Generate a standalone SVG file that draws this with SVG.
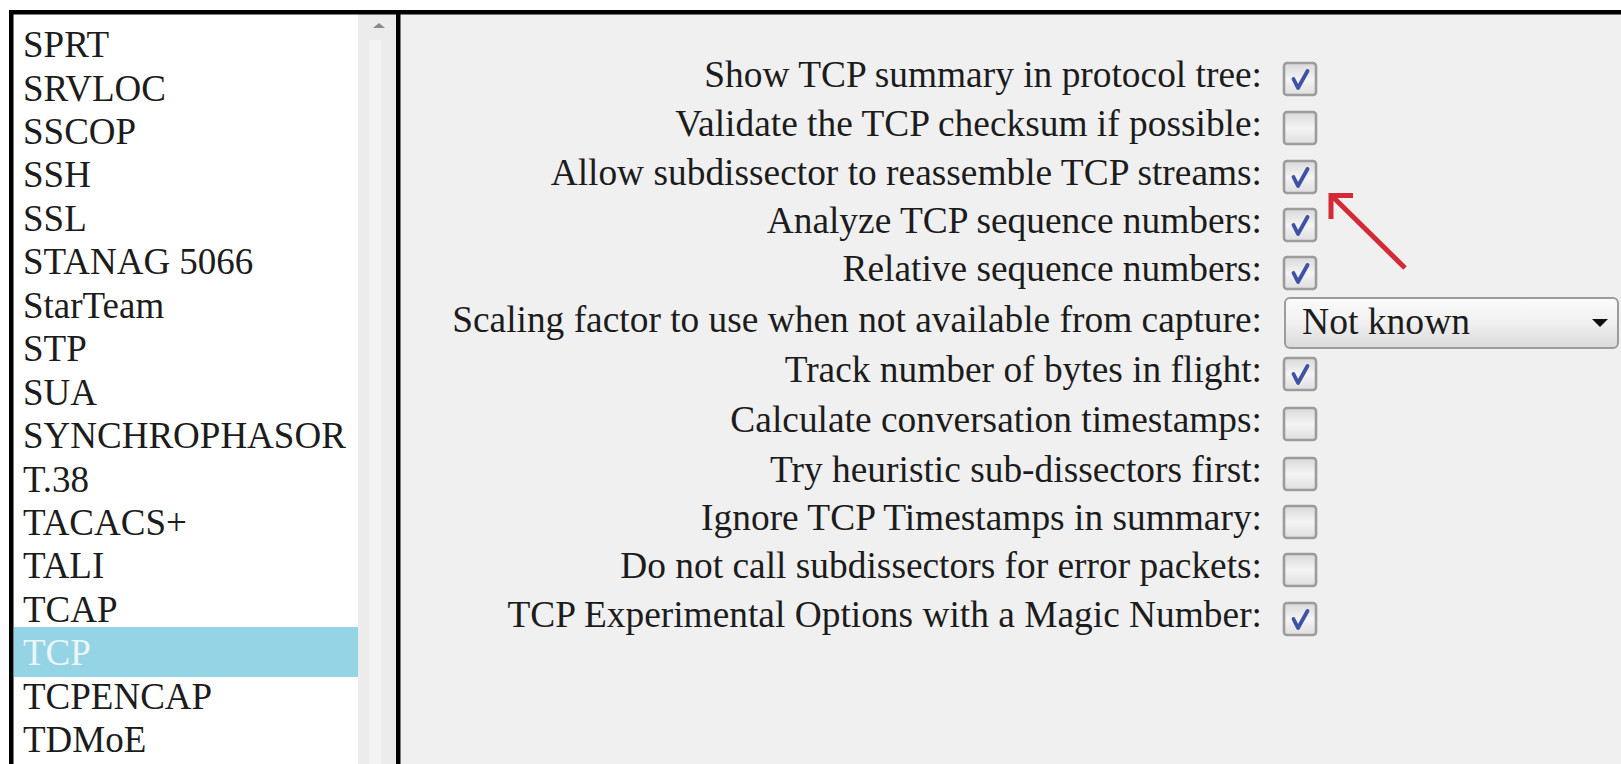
<svg xmlns="http://www.w3.org/2000/svg" width="1621" height="764" viewBox="0 0 1621 764" font-family="'Liberation Serif', 'Times New Roman', serif">
  <style>
    text { font-family: "Liberation Serif", "Times New Roman", serif; }
    .item { font-size: 37px; fill: #1c1c1c; }
    .sel { fill: #eaf6fa; }
    .label { font-size: 37.4px; fill: #1c1c1c; text-anchor: end; }
    .combo-text { font-size: 37.6px; fill: #1c1c1c; }
    .box { fill: url(#boxFill); stroke: #9c9c9c; stroke-width: 2.6; }
    .tick { fill: none; stroke: #3f52a3; stroke-width: 3.8; stroke-linecap: round; stroke-linejoin: round; }
    .arrow { fill: none; stroke: #d42a35; stroke-width: 5; stroke-linecap: butt; }
  </style>
  <defs>
    <linearGradient id="boxFill" x1="0" y1="0" x2="0" y2="1">
      <stop offset="0" stop-color="#d9d9d9"/>
      <stop offset="0.5" stop-color="#f4f4f4"/>
      <stop offset="1" stop-color="#dedede"/>
    </linearGradient>
    <linearGradient id="comboFill" x1="0" y1="0" x2="0" y2="1">
      <stop offset="0" stop-color="#fbfbfb"/>
      <stop offset="0.5" stop-color="#f0f0f0"/>
      <stop offset="1" stop-color="#dadada"/>
    </linearGradient>
    <symbol id="cbOff" viewBox="0 0 34 34" overflow="visible">
      <rect class="box" x="1" y="1" width="32" height="32" rx="3"/>
    </symbol>
    <symbol id="cbOn" viewBox="0 0 34 34" overflow="visible">
      <rect class="box" x="1" y="1" width="32" height="32" rx="3"/>
      <path class="tick" d="M10.5 17 L15 26 L24.5 9"/>
    </symbol>
  </defs>

  <!-- page background and panels -->
  <rect x="0" y="0" width="1621" height="764" fill="#ffffff"/>
  <rect x="11" y="12" width="1610" height="752" fill="#f0f0f0"/>

  <!-- protocol list -->
  <g id="protocol-list">
    <rect x="13" y="14" width="345" height="750" fill="#ffffff"/>
    <rect x="358" y="14" width="38" height="750" fill="#ececec"/>
    <rect x="369" y="40" width="12" height="724" fill="#f3f3f3"/>
    <path d="M373 28 L379 23 L385 28 Z" fill="#8a8a8a"/>
    <rect x="14" y="627" width="344" height="50" fill="#94d4e4"/>
    <text class="item" x="23" y="57">SPRT</text>
    <text class="item" x="23" y="100.5">SRVLOC</text>
    <text class="item" x="23" y="144">SSCOP</text>
    <text class="item" x="23" y="187.4">SSH</text>
    <text class="item" x="23" y="230.8">SSL</text>
    <text class="item" x="23" y="274.3">STANAG 5066</text>
    <text class="item" x="23" y="317.7">StarTeam</text>
    <text class="item" x="23" y="361.2">STP</text>
    <text class="item" x="23" y="404.6">SUA</text>
    <text class="item" x="23" y="448.1">SYNCHROPHASOR</text>
    <text class="item" x="23" y="491.5">T.38</text>
    <text class="item" x="23" y="535">TACACS+</text>
    <text class="item" x="23" y="578.4">TALI</text>
    <text class="item" x="23" y="621.9">TCAP</text>
    <text class="item sel" x="23" y="665.3">TCP</text>
    <text class="item" x="23" y="708.8">TCPENCAP</text>
    <text class="item" x="23" y="752.2">TDMoE</text>
  </g>

  <!-- frame lines -->
  <g id="frame">
    <rect x="9" y="10" width="1612" height="4.5" fill="#000000"/>
    <rect x="9" y="10" width="4.5" height="754" fill="#000000"/>
    <rect x="396" y="10" width="4.5" height="754" fill="#000000"/>
  </g>

  <!-- TCP preference rows -->
  <g id="pref-summary">
    <text class="label" x="1262" y="87">Show TCP summary in protocol tree:</text>
    <use href="#cbOn" x="1283" y="62" width="34" height="34"/>
  </g>
  <g id="pref-checksum">
    <text class="label" x="1262" y="136">Validate the TCP checksum if possible:</text>
    <use href="#cbOff" x="1283" y="111" width="34" height="34"/>
  </g>
  <g id="pref-reassemble">
    <text class="label" x="1262" y="185">Allow subdissector to reassemble TCP streams:</text>
    <use href="#cbOn" x="1283" y="160" width="34" height="34"/>
  </g>
  <g id="pref-analyze">
    <text class="label" x="1262" y="233">Analyze TCP sequence numbers:</text>
    <use href="#cbOn" x="1283" y="208" width="34" height="34"/>
  </g>
  <g id="pref-relative">
    <text class="label" x="1262" y="281">Relative sequence numbers:</text>
    <use href="#cbOn" x="1283" y="256" width="34" height="34"/>
  </g>
  <g id="pref-scaling">
    <text class="label" x="1262" y="332">Scaling factor to use when not available from capture:</text>
    <rect x="1285" y="298" width="333" height="50" rx="5" fill="url(#comboFill)" stroke="#9c9c9c" stroke-width="2"/>
    <text class="combo-text" x="1302" y="334">Not known</text>
    <path d="M1592 319 L1608 319 L1600 327 Z" fill="#111111"/>
  </g>
  <g id="pref-inflight">
    <text class="label" x="1262" y="382">Track number of bytes in flight:</text>
    <use href="#cbOn" x="1283" y="357" width="34" height="34"/>
  </g>
  <g id="pref-timestamps">
    <text class="label" x="1262" y="432">Calculate conversation timestamps:</text>
    <use href="#cbOff" x="1283" y="407" width="34" height="34"/>
  </g>
  <g id="pref-heuristic">
    <text class="label" x="1262" y="482">Try heuristic sub-dissectors first:</text>
    <use href="#cbOff" x="1283" y="457" width="34" height="34"/>
  </g>
  <g id="pref-ignore-ts">
    <text class="label" x="1262" y="530">Ignore TCP Timestamps in summary:</text>
    <use href="#cbOff" x="1283" y="505" width="34" height="34"/>
  </g>
  <g id="pref-error-packets">
    <text class="label" x="1262" y="578">Do not call subdissectors for error packets:</text>
    <use href="#cbOff" x="1283" y="553" width="34" height="34"/>
  </g>
  <g id="pref-experimental">
    <text class="label" x="1262" y="627">TCP Experimental Options with a Magic Number:</text>
    <use href="#cbOn" x="1283" y="602" width="34" height="34"/>
  </g>

  <!-- pointer arrow -->
  <g id="connectors">
    <path class="arrow" d="M1405 268 L1333 197"/>
    <path class="arrow" d="M1353 195.5 L1331 195.5 L1331 219"/>
  </g>
</svg>
